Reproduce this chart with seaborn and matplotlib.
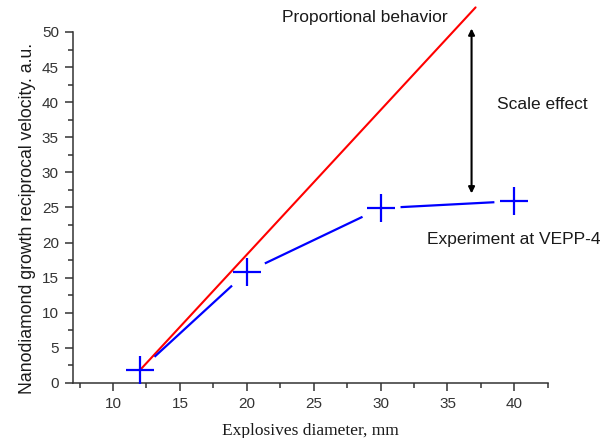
import numpy as np
import pandas as pd
import seaborn as sns
import matplotlib.pyplot as plt
from matplotlib.ticker import MultipleLocator

# experiment at VEPP-4
diameter = [12, 20, 30, 40]
velocity = [1.8, 15.8, 24.9, 25.9]

# proportional behaviour line
prop_x = [12, 37.1]
prop_y = [1.8, 53.5]

# scale effect arrow (x, y bottom, y top)
arrow_x = 36.8
arrow_y = [27.0, 50.5]

sns.set_style("ticks")
plt.rcParams["font.family"] = ["Liberation Sans", "DejaVu Sans"]

fig = plt.figure(figsize=(6.02, 4.38), dpi=100)
ax = fig.add_axes([0.121, 0.1256, 0.789, 0.8014])

ax.set_xlim(7, 42.5)
ax.set_ylim(0, 50)

df = pd.DataFrame({"d": diameter, "v": velocity})

# red proportional line, not clipped at the top
sns.lineplot(x=prop_x, y=prop_y, color="red", lw=1.5, ax=ax)
ax.lines[-1].set_clip_on(False)

# blue segments with gaps around the markers (Origin style)
fig.canvas.draw()
gap = 20  # pixels
pts = ax.transData.transform(np.column_stack([diameter, velocity]))
inv = ax.transData.inverted()
for p0, p1 in zip(pts[:-1], pts[1:]):
    d = p1 - p0
    u = d / np.hypot(*d)
    seg = inv.transform(np.array([p0 + u * gap, p1 - u * gap]))
    ax.plot(seg[:, 0], seg[:, 1], color="blue", lw=1.6, solid_capstyle="butt")

sns.scatterplot(data=df, x="d", y="v", marker="+", s=28**2 * 0.52,
                color="blue", linewidth=1.6, ax=ax, zorder=5, clip_on=False)

ax.annotate("", xy=(arrow_x, arrow_y[1]), xytext=(arrow_x, arrow_y[0]),
            arrowprops=dict(arrowstyle="<|-|>", color="black", lw=1.5,
                            mutation_scale=9, shrinkA=0, shrinkB=0),
            annotation_clip=False)

ax.text(22.6, 52.0, "Proportional behavior", fontsize=12.5,
        color="#1a1a1a", ha="left", va="center", clip_on=False)
ax.text(38.7, 39.6, "Scale effect", fontsize=12.5,
        color="#1a1a1a", ha="left", va="center", clip_on=False)
ax.text(33.5, 20.4, "Experiment at VEPP-4", fontsize=12.5,
        color="#1a1a1a", ha="left", va="center", clip_on=False)

ax.set_xlabel("Explosives diameter, mm", family=["Liberation Serif"],
              fontsize=12.5, color="#1a1a1a", labelpad=9)
ax.set_ylabel("Nanodiamond growth reciprocal velocity. a.u.", fontsize=12.7,
              color="#1a1a1a")
ax.yaxis.set_label_coords(-0.078, 0.469)

ax.set_xticks([10, 15, 20, 25, 30, 35, 40])
ax.xaxis.set_minor_locator(MultipleLocator(2.5))
ax.yaxis.set_major_locator(MultipleLocator(5))
ax.yaxis.set_minor_locator(MultipleLocator(2.5))
ax.tick_params(which="major", direction="out", length=6, width=1.1,
               labelsize=11, colors="#333333", pad=4)
ax.tick_params(which="minor", direction="out", length=3.5, width=1.1,
               colors="#333333")
for s in ["left", "bottom"]:
    ax.spines[s].set_color("#333333")
    ax.spines[s].set_linewidth(1.1)
sns.despine(ax=ax)

fig.savefig("out.png", dpi=100)
